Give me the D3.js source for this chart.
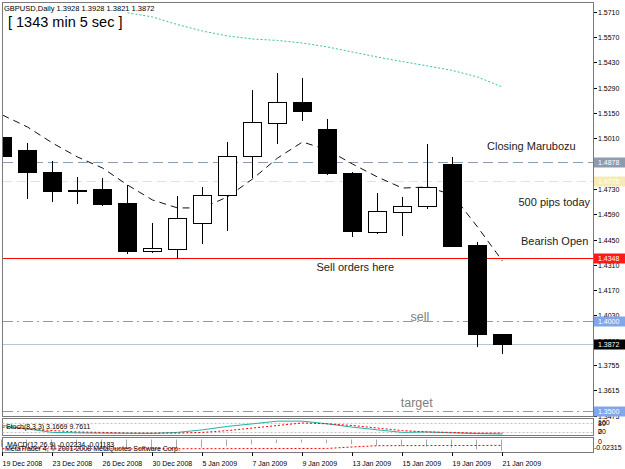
<!DOCTYPE html>
<html>
<head>
<meta charset="utf-8">
<script src="https://cdn.jsdelivr.net/npm/d3@7"></script>
<style>
  body { margin: 0; background: #fff; }
  svg { display: block; font-family: "Liberation Sans", Arial, sans-serif; }
</style>
</head>
<body>
<div id="chart"></div>
<script>
// GBPUSD daily bars
const dates = ["19 Dec 2008", "22 Dec 2008", "23 Dec 2008", "24 Dec 2008", "26 Dec 2008", "29 Dec 2008",
  "30 Dec 2008", "31 Dec 2008", "5 Jan 2009", "6 Jan 2009", "7 Jan 2009", "8 Jan 2009", "9 Jan 2009",
  "12 Jan 2009", "13 Jan 2009", "14 Jan 2009", "15 Jan 2009", "16 Jan 2009", "19 Jan 2009", "20 Jan 2009", "21 Jan 2009"];
const open  = [1.5018, 1.4946, 1.4824, 1.4722, 1.4728, 1.4651, 1.4385, 1.4399, 1.4540, 1.4697, 1.4914,
  1.5093, 1.5213, 1.5062, 1.4817, 1.4494, 1.4604, 1.4636, 1.4866, 1.4420, 1.3928];
const high  = [1.5139, 1.4984, 1.4886, 1.4798, 1.4789, 1.4752, 1.4543, 1.4691, 1.4739, 1.4992, 1.5278,
  1.5373, 1.5346, 1.5116, 1.4826, 1.4709, 1.4684, 1.4977, 1.4908, 1.4438, 1.3928];
const low   = [1.4807, 1.4680, 1.4665, 1.4654, 1.4643, 1.4377, 1.4383, 1.4346, 1.4429, 1.4503, 1.4798,
  1.4983, 1.5112, 1.4812, 1.4471, 1.4488, 1.4475, 1.4623, 1.4416, 1.3863, 1.3821];
const close = [1.4912, 1.4824, 1.4719, 1.4720, 1.4645, 1.4387, 1.4402, 1.4568, 1.4697, 1.4914, 1.5099,
  1.5213, 1.5163, 1.4817, 1.4497, 1.4608, 1.4637, 1.4743, 1.4416, 1.3927, 1.3872];

// moving averages
const maFast = [1.5139, 1.5073, 1.4984, 1.4907, 1.4846, 1.4752, 1.4669, 1.4625, 1.4625, 1.4686, 1.4785,
  1.4901, 1.4990, 1.4946, 1.4868, 1.4796, 1.4735, 1.4741, 1.4697, 1.4520, 1.4331];
const maSlow = [null, null, null, null, null, 1.5705, 1.5682, 1.5640, 1.5604, 1.5577, 1.5560,
  1.5552, 1.5538, 1.5516, 1.5488, 1.5460, 1.5435, 1.5411, 1.5386, 1.5350, 1.5294];

// Stoch(8,3,3)
const stochK = [60, 37, 14, 11, 9, 9, 8, 14, 31, 54, 71, 89, 89, 71, 49, 31, 14, 17, 11, 6, 3.1669];
const stochD = [49, 37, 26, 17, 14, 9, 9, 9, 14, 26, 43, 60, 77, 71, 60, 43, 26, 17, 14, 9, 9.7611];

// MACD(12,26,9)
const macdHist = [-0.0150, -0.0160, -0.0170, -0.0180, -0.0180, -0.0190, -0.0190, -0.0180, -0.0160, -0.0130,
  -0.0100, -0.0070, -0.0060, -0.0075, -0.0095, -0.0120, -0.0135, -0.0145, -0.0165, -0.0195, -0.02234];
const macdSignal = [-0.0185, -0.0186, -0.0187, -0.0187, -0.0187, -0.0187, -0.0187, -0.0186, -0.0185, -0.0184,
  -0.0183, -0.0182, -0.0181, -0.0180, -0.0150, -0.0125, -0.0123, -0.0122, -0.0121, -0.0120, -0.01183];

const priceTicks = ["1.5710", "1.5570", "1.5430", "1.5290", "1.5150", "1.5010", "1.4870", "1.4730", "1.4590",
  "1.4450", "1.4310", "1.4170", "1.4030", "1.3890", "1.3755", "1.3615", "1.3475"];

// horizontal lines and their axis labels
const levels = [1.4878, 1.4775, 1.4348, 1.4000, 1.3872, 1.3500];
const levelLabels = ["1.4878", "1.4775", "1.4348", "1.4000", "1.3872", "1.3500"];

const notes = ["Closing Marubozu", "500 pips today", "Bearish Open", "Sell orders here", "sell", "target"];
const noteBar = [19.38, 20.64, 20.74, 12.56, 16.32, 15.93];
const notePrice = [1.4943, 1.4636, 1.4420, 1.4278, 1.4001, 1.3525];

const W = 625, H = 469;
const pLeft = 2.5, pRight = 593.5, pTop = 2.5, pBottom = 416.5;

const svg = d3.select("#chart").append("svg")
  .attr("width", W).attr("height", H)
  .style("background", "#fff");

const x = d3.scaleLinear().domain([0, 20]).range([2.5, 502.5]);
const y = d3.scaleLinear().domain([1.35, 1.571]).range([411.2, 11.9]);

svg.append("clipPath").attr("id", "clip")
  .append("rect").attr("x", pLeft).attr("y", pTop).attr("width", pRight - pLeft).attr("height", pBottom - pTop);

const plot = svg.append("g").attr("clip-path", "url(#clip)");

// level lines
const levelStyle = [
  { stroke: "#8e9db1", dash: "10,5", box: "#8c9bb0" },
  { stroke: "#f3e4a6", dash: "9,5", box: "#f6ebb6" },
  { stroke: "#ff0000", dash: null, box: "#ff1a1a" },
  { stroke: "#6e9ef0", dash: "10,4,2,4", box: "#7fa7ea" },
  { stroke: "#b6c5d6", dash: null, box: "#000000" },
  { stroke: "#6e9ef0", dash: "10,4,2,4", box: "#7fa7ea" }
];
levels.forEach((p, i) => {
  const yy = Math.round(y(p)) + 0.5;
  plot.append("line")
    .attr("x1", pLeft).attr("x2", pRight).attr("y1", yy).attr("y2", yy)
    .attr("stroke", levelStyle[i].stroke)
    .attr("shape-rendering", "crispEdges")
    .attr("stroke-dasharray", levelStyle[i].dash);
});

// slow MA (teal dotted)
const line = d3.line().defined(d => d != null).x((d, i) => x(i)).y(d => y(d));
plot.append("path").datum(maSlow)
  .attr("d", line)
  .attr("fill", "none").attr("stroke", "#3cbf9c").attr("stroke-dasharray", "2,2");

// fast MA (black dashed)
plot.append("path").datum(maFast)
  .attr("d", line)
  .attr("fill", "none").attr("stroke", "#111").attr("stroke-dasharray", "7,5");

// candles
dates.forEach((d, i) => {
  const cx = x(i);
  const g = plot.append("g").attr("shape-rendering", "crispEdges");
  g.append("line")
    .attr("x1", cx).attr("x2", cx)
    .attr("y1", Math.round(y(high[i]))).attr("y2", Math.round(y(low[i])) + 1)
    .attr("stroke", "#000");
  const yt = Math.round(y(Math.max(open[i], close[i]))) + 0.5;
  const yb = Math.round(y(Math.min(open[i], close[i]))) + 0.5;
  const bull = close[i] >= open[i];
  if (yb - yt < 1) {
    g.append("line")
      .attr("x1", cx - 9.5).attr("x2", cx + 9.5).attr("y1", yt).attr("y2", yt)
      .attr("stroke", "#000");
  } else {
    g.append("rect")
      .attr("x", cx - 9).attr("y", yt).attr("width", 18).attr("height", yb - yt)
      .attr("fill", bull ? "#fff" : "#000").attr("stroke", "#000");
  }
});

// notes
notes.forEach((t, i) => {
  const small = i >= 4;
  plot.append("text")
    .attr("x", x(noteBar[i])).attr("y", y(notePrice[i]))
    .attr("font-size", small ? 12.5 : 11)
    .attr("fill", small ? "#808080" : "#222")
    .text(t);
});

// header texts
svg.append("text").attr("x", 4).attr("y", 10.5).attr("font-size", 7.5).attr("fill", "#000")
  .text("GBPUSD,Daily  " + [open[20], high[20], low[20], close[20]].map(v => v.toFixed(4)).join(" "));
svg.append("text").attr("x", 8).attr("y", 27).attr("font-size", 14.5).attr("fill", "#000")
  .text("[ 1343 min 5 sec ]");

// frames
const frame = svg.append("g").attr("fill", "none").attr("stroke", "#7a7a7a").attr("shape-rendering", "crispEdges");
frame.append("rect").attr("x", pLeft).attr("y", pTop).attr("width", pRight - pLeft).attr("height", pBottom - pTop);

// price axis
const axis = svg.append("g").attr("font-size", 7).attr("fill", "#000");
priceTicks.forEach(t => {
  const yy = Math.round(y(+t)) + 0.5;
  axis.append("line").attr("x1", 594).attr("x2", 597).attr("y1", yy).attr("y2", yy).attr("stroke", "#000");
  // labels sitting fully under a level box are not visible in the terminal
  const hidden = levels.some(p => Math.abs(y(p) - y(+t)) < 2.5);
  if (!hidden) axis.append("text").attr("x", 598).attr("y", yy + 2.5).text(t);
});
levels.forEach((p, i) => {
  const yy = Math.round(y(p));
  axis.append("rect").attr("x", 594).attr("y", yy - 4.5).attr("width", 31).attr("height", 10)
    .attr("fill", levelStyle[i].box);
  axis.append("text").attr("x", 598).attr("y", yy + 3).attr("fill", "#fff").text(levelLabels[i]);
});

// Stochastic panel
const sy = d3.scaleLinear().domain([0, 100]).range([434.5, 419.5]);
const sp = svg.append("g");
[80, 20].forEach(v => {
  sp.append("line").attr("x1", pLeft).attr("x2", pRight)
    .attr("y1", Math.round(sy(v)) + 0.5).attr("y2", Math.round(sy(v)) + 0.5)
    .attr("stroke", "#c0c0c0").attr("stroke-dasharray", "2,2");
});
const sline = d3.line().x((d, i) => x(i)).y(d => sy(d));
sp.append("path").datum(stochK).attr("d", sline).attr("fill", "none").attr("stroke", "#20b2aa");
sp.append("path").datum(stochD).attr("d", sline).attr("fill", "none").attr("stroke", "#ff0000")
  .attr("stroke-dasharray", "2,2");
sp.append("text").attr("x", 6).attr("y", 428.5).attr("font-size", 7).attr("fill", "#000")
  .text("Stoch(8,3,3) " + stochK[20].toFixed(4) + " " + stochD[20].toFixed(4));
frame.append("rect").attr("x", pLeft).attr("y", 418.5).attr("width", pRight - pLeft).attr("height", 17);
const sLabels = [["100", 424.5], ["80", 425.5], ["20", 433.5], ["0", 433.5]];
sLabels.forEach(l => {
  axis.append("text").attr("x", 598).attr("y", l[1]).text(l[0]);
});

// MACD panel
const my = d3.scaleLinear().domain([-0.02315, 0]).range([451, 439.5]);
const mp = svg.append("g");
macdHist.forEach((v, i) => {
  const xx = Math.floor(x(i)) - 0.5;
  mp.append("line").attr("x1", xx).attr("x2", xx)
    .attr("y1", my(0)).attr("y2", my(v))
    .attr("stroke", "#a8a8a8");
});
mp.append("path").datum(macdSignal)
  .attr("d", d3.line().x((d, i) => x(i)).y(d => my(d)))
  .attr("fill", "none").attr("stroke", "#ff0000").attr("stroke-dasharray", "2,2");
mp.append("text").attr("x", 7).attr("y", 446.5).attr("font-size", 7).attr("fill", "#000")
  .text("MACD(12,26,9) " + macdHist[20].toFixed(5) + " " + macdSignal[20].toFixed(5));
mp.append("text").attr("x", 5).attr("y", 451).attr("font-size", 7).attr("fill", "#000")
  .text("MetaTrader 4, \u00a9 2001-2008 MetaQuotes Software Corp.");
frame.append("rect").attr("x", pLeft).attr("y", 437.5).attr("width", pRight - pLeft).attr("height", 15);
axis.append("text").attr("x", 598).attr("y", 443.5).text("0");
axis.append("text").attr("x", 594).attr("y", 449.5).text("-0.02315");

// time axis
const tAxis = svg.append("g").attr("font-size", 7).attr("fill", "#000");
dates.forEach((d, i) => {
  if (i % 2) return;
  const xx = Math.floor(x(i)) + 0.5;
  tAxis.append("line").attr("x1", xx).attr("x2", xx).attr("y1", 452.5).attr("y2", 456)
    .attr("stroke", "#000");
  tAxis.append("text").attr("x", xx).attr("y", 466).text(d);
});
</script>
</body>
</html>
